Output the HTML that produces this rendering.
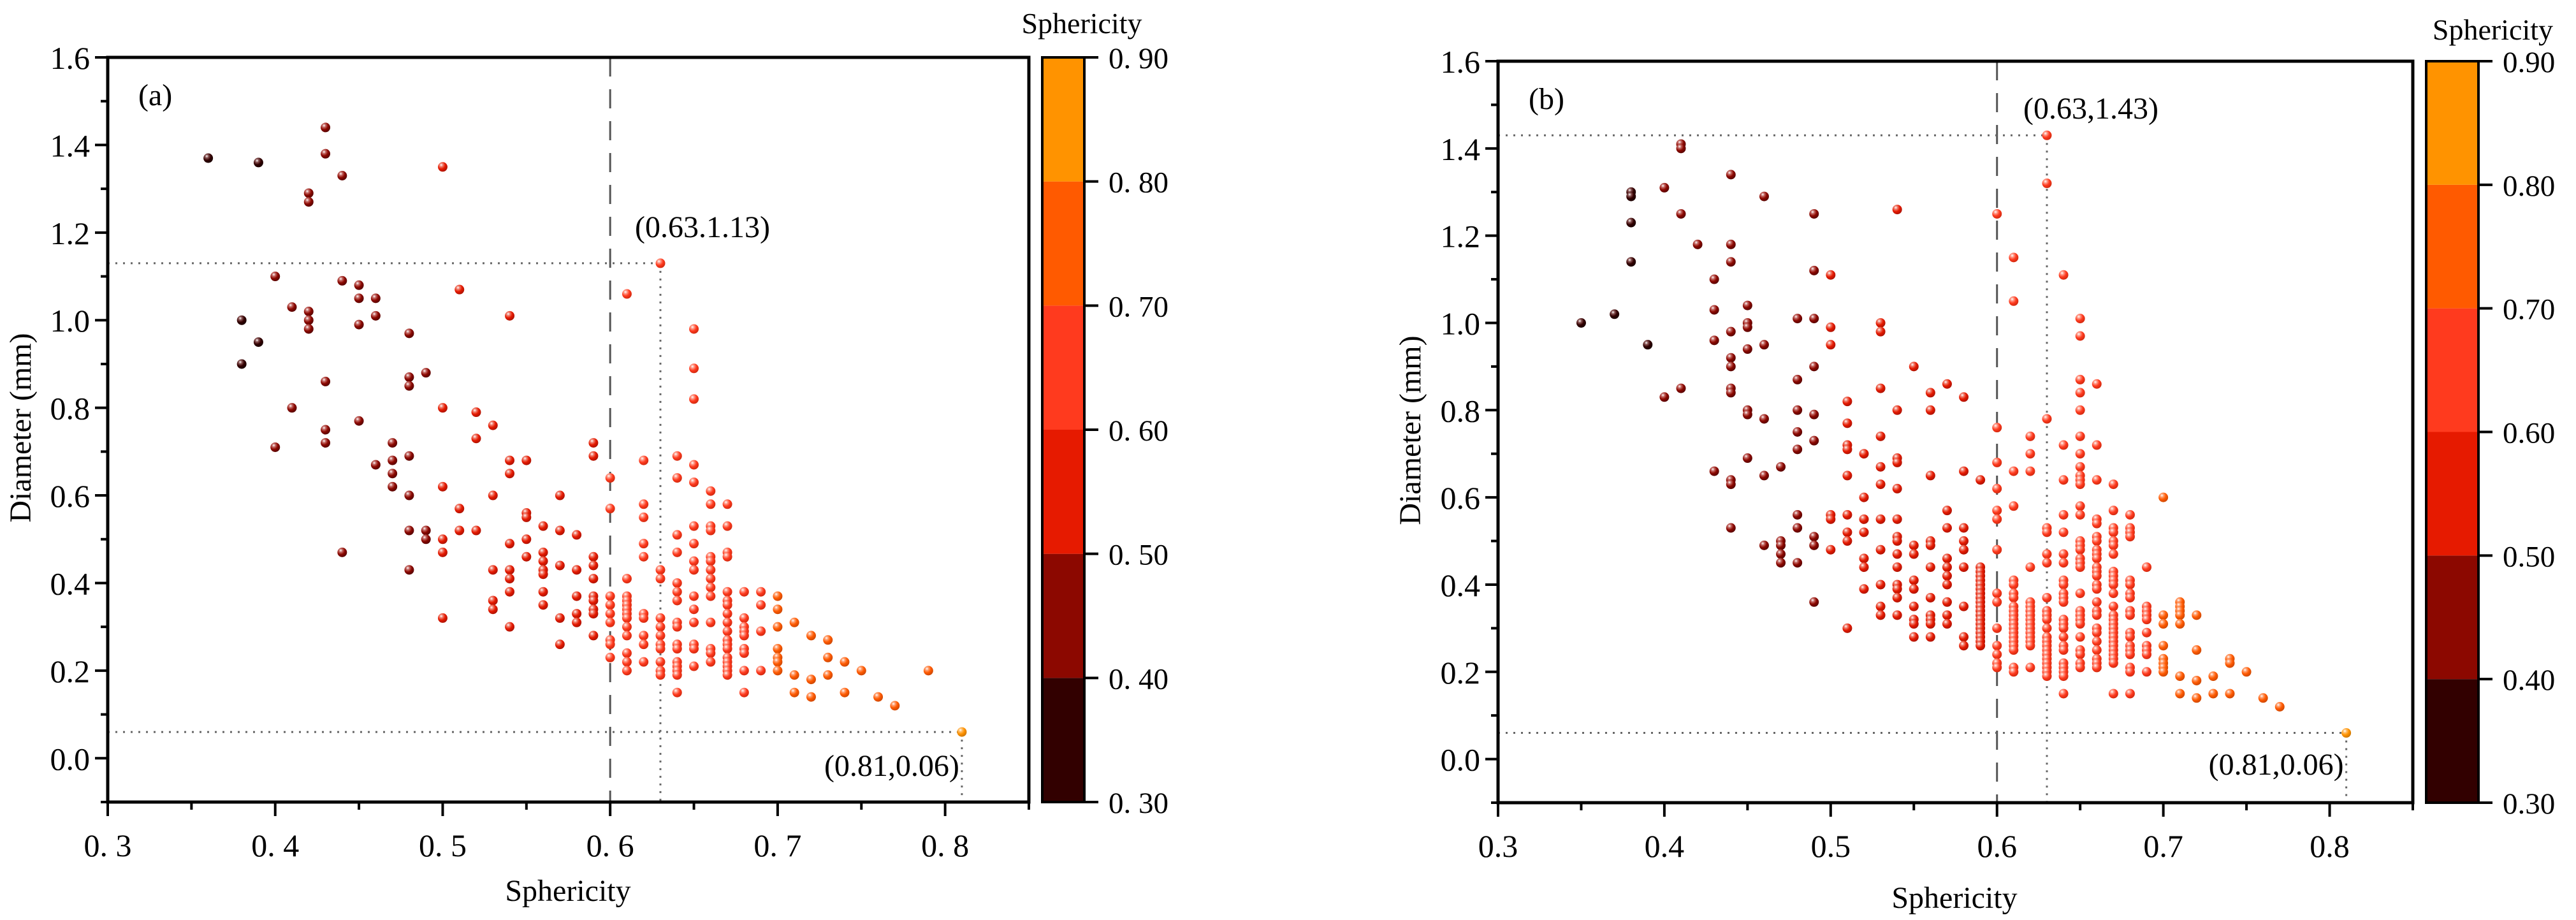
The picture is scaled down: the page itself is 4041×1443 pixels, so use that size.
<!DOCTYPE html>
<html><head><meta charset="utf-8"><style>
html,body{margin:0;padding:0;background:#fff}
svg{display:block}
svg text{font-family:"Liberation Serif","DejaVu Serif","Times New Roman",serif;fill:#000}
</style></head><body>
<svg id="chart" width="4041" height="1443" viewBox="0 0 4041 1443" xmlns="http://www.w3.org/2000/svg" font-family="Liberation Serif, DejaVu Serif, serif">
<defs>
<radialGradient id="g0" cx="0.35" cy="0.3" r="0.7"><stop offset="0" stop-color="#ffffff"/><stop offset="0.25" stop-color="#8a5555"/><stop offset="0.6" stop-color="#320000"/><stop offset="1" stop-color="#1a0000"/></radialGradient>
<radialGradient id="g1" cx="0.35" cy="0.3" r="0.7"><stop offset="0" stop-color="#ffffff"/><stop offset="0.25" stop-color="#c46a66"/><stop offset="0.6" stop-color="#8c0800"/><stop offset="1" stop-color="#5a0400"/></radialGradient>
<radialGradient id="g2" cx="0.35" cy="0.3" r="0.7"><stop offset="0" stop-color="#ffffff"/><stop offset="0.25" stop-color="#f08070"/><stop offset="0.6" stop-color="#e61a00"/><stop offset="1" stop-color="#b01200"/></radialGradient>
<radialGradient id="g3" cx="0.35" cy="0.3" r="0.7"><stop offset="0" stop-color="#ffffff"/><stop offset="0.25" stop-color="#ff9a88"/><stop offset="0.6" stop-color="#ff3a1e"/><stop offset="1" stop-color="#d42a10"/></radialGradient>
<radialGradient id="g4" cx="0.35" cy="0.3" r="0.7"><stop offset="0" stop-color="#ffffff"/><stop offset="0.25" stop-color="#ffa070"/><stop offset="0.6" stop-color="#ff5a00"/><stop offset="1" stop-color="#d04800"/></radialGradient>
<radialGradient id="g5" cx="0.35" cy="0.3" r="0.7"><stop offset="0" stop-color="#ffffff"/><stop offset="0.25" stop-color="#ffc070"/><stop offset="0.6" stop-color="#ff9300"/><stop offset="1" stop-color="#d07800"/></radialGradient>
</defs>
</svg>
<script>
// ---------- data: panel (a) ----------
const aSphericity = [0.36,0.38,0.39,0.40,0.41,0.42,0.43,0.44,0.45,0.46,0.47,0.48,0.49,0.50,0.51,0.52,0.53,0.54,0.55,0.56,0.57,0.58,0.59,0.60,0.61,0.62,0.63,0.64,0.65,0.66,0.67,0.68,0.69,0.70,0.71,0.72,0.73,0.74,0.75,0.76,0.77,0.79,0.81];
const aDiameter = [
[1.37],[1.00,0.90],[1.36,0.95],[1.10,0.71],[1.03,0.80],[1.29,1.27,1.02,1.00,0.98],[1.44,1.38,0.86,0.75,0.72],[1.33,1.09,0.47],[1.08,1.05,0.99,0.77],[1.05,1.01,0.67],[0.72,0.68,0.65,0.62],[0.97,0.87,0.85,0.69,0.60,0.52,0.43],[0.88,0.52,0.50],[1.35,0.80,0.62,0.50,0.47,0.32],[1.07,0.57,0.52],[0.79,0.73,0.52],[0.76,0.60,0.43,0.36,0.34],[1.01,0.68,0.65,0.49,0.43,0.41,0.38,0.30],[0.68,0.56,0.55,0.50,0.46],[0.53,0.47,0.45,0.43,0.42,0.38,0.35],[0.60,0.52,0.44,0.32,0.26],[0.51,0.43,0.37,0.33,0.31],[0.72,0.69,0.46,0.44,0.41,0.37,0.36,0.34,0.33,0.28],[0.64,0.57,0.37,0.35,0.33,0.31,0.27,0.26,0.23],[1.06,0.41,0.37,0.36,0.35,0.34,0.33,0.32,0.30,0.28,0.24,0.22,0.20],[0.68,0.58,0.55,0.49,0.46,0.33,0.32,0.28,0.26,0.22],[1.13,0.43,0.41,0.32,0.30,0.28,0.26,0.25,0.22,0.20,0.19],[0.69,0.64,0.51,0.47,0.40,0.38,0.36,0.31,0.30,0.26,0.25,0.22,0.21,0.20,0.19,0.15],[0.98,0.89,0.82,0.67,0.63,0.53,0.49,0.45,0.43,0.37,0.34,0.31,0.26,0.25,0.21],[0.61,0.58,0.53,0.52,0.46,0.45,0.43,0.41,0.39,0.37,0.31,0.25,0.24,0.22],[0.58,0.53,0.47,0.46,0.38,0.36,0.35,0.33,0.31,0.29,0.27,0.26,0.25,0.23,0.22,0.21,0.20,0.19],[0.38,0.32,0.30,0.29,0.28,0.25,0.24,0.20,0.15],[0.38,0.35,0.29,0.20],[0.37,0.34,0.30,0.25,0.23,0.22,0.20],[0.31,0.19,0.15],[0.28,0.18,0.14],[0.27,0.23,0.19],[0.22,0.15],[0.20],[0.14],[0.12],[0.20],[0.06]];
// ---------- data: panel (b) ----------
const bSphericity = [0.35,0.37,0.38,0.39,0.40,0.41,0.42,0.43,0.44,0.45,0.46,0.47,0.48,0.49,0.50,0.51,0.52,0.53,0.54,0.55,0.56,0.57,0.58,0.59,0.60,0.61,0.62,0.63,0.64,0.65,0.66,0.67,0.68,0.69,0.70,0.71,0.72,0.73,0.74,0.75,0.76,0.77,0.81];
const bDiameter = [
[1.00],[1.02],[1.30,1.29,1.23,1.14],[0.95],[1.31,0.83],[1.41,1.40,1.25,0.85],[1.18],[1.10,1.03,0.96,0.66],[1.34,1.18,1.14,0.98,0.92,0.90,0.85,0.84,0.64,0.63,0.53],[1.04,1.00,0.99,0.94,0.80,0.79,0.69],[1.29,0.95,0.78,0.65,0.49],[0.67,0.50,0.49,0.47,0.45],[1.01,0.87,0.80,0.75,0.71,0.56,0.53,0.45],[1.25,1.12,1.01,0.90,0.79,0.73,0.51,0.49,0.36],[1.11,0.99,0.95,0.56,0.55,0.48],[0.82,0.77,0.72,0.71,0.65,0.56,0.52,0.50,0.30],[0.70,0.60,0.55,0.52,0.46,0.44,0.39],[1.00,0.98,0.85,0.74,0.67,0.63,0.55,0.48,0.40,0.35,0.33],[1.26,0.80,0.69,0.68,0.62,0.55,0.51,0.50,0.47,0.44,0.40,0.39,0.37,0.33],[0.90,0.49,0.47,0.41,0.39,0.35,0.32,0.31,0.28],[0.84,0.80,0.65,0.50,0.49,0.44,0.37,0.33,0.32,0.31,0.28],[0.86,0.57,0.53,0.46,0.44,0.42,0.40,0.36,0.33,0.31],[0.83,0.66,0.53,0.50,0.48,0.44,0.35,0.28,0.26],[0.64,0.44,0.43,0.42,0.41,0.40,0.39,0.38,0.37,0.36,0.35,0.34,0.33,0.32,0.31,0.30,0.29,0.28,0.27,0.26],[1.25,0.76,0.68,0.62,0.57,0.55,0.48,0.38,0.36,0.30,0.26,0.24,0.22,0.21],[1.15,1.05,0.66,0.58,0.41,0.40,0.38,0.37,0.35,0.34,0.33,0.32,0.31,0.30,0.29,0.28,0.27,0.26,0.25,0.21,0.20],[0.74,0.70,0.66,0.44,0.36,0.35,0.34,0.33,0.32,0.31,0.30,0.29,0.28,0.27,0.26,0.21],[1.43,1.32,0.78,0.53,0.52,0.47,0.45,0.37,0.34,0.33,0.32,0.30,0.28,0.27,0.26,0.25,0.24,0.23,0.22,0.21,0.20,0.19],[1.11,0.72,0.64,0.56,0.52,0.47,0.45,0.41,0.40,0.38,0.37,0.36,0.32,0.31,0.30,0.28,0.26,0.25,0.22,0.21,0.20,0.19,0.15],[1.01,0.97,0.87,0.84,0.80,0.74,0.70,0.67,0.65,0.64,0.63,0.58,0.56,0.50,0.49,0.48,0.46,0.45,0.44,0.38,0.34,0.33,0.32,0.31,0.28,0.25,0.24,0.22,0.21],[0.86,0.72,0.64,0.55,0.54,0.51,0.50,0.48,0.47,0.46,0.44,0.43,0.42,0.40,0.39,0.36,0.34,0.33,0.30,0.29,0.27,0.25,0.23,0.22,0.21],[0.63,0.57,0.53,0.52,0.50,0.49,0.47,0.43,0.42,0.41,0.40,0.38,0.35,0.33,0.32,0.31,0.30,0.29,0.28,0.27,0.26,0.25,0.24,0.23,0.22,0.15],[0.56,0.53,0.52,0.51,0.41,0.40,0.38,0.37,0.34,0.33,0.29,0.28,0.26,0.25,0.24,0.21,0.20,0.15],[0.44,0.35,0.34,0.33,0.32,0.29,0.26,0.25,0.24,0.20],[0.60,0.33,0.31,0.26,0.23,0.22,0.21,0.20],[0.36,0.35,0.34,0.33,0.31,0.19,0.15],[0.33,0.25,0.18,0.14],[0.19,0.15],[0.23,0.22,0.15],[0.20],[0.14],[0.12],[0.06]];
// tick labels
const aXTickLabels = ["0. 3","0. 4","0. 5","0. 6","0. 7","0. 8"];
const bXTickLabels = ["0.3","0.4","0.5","0.6","0.7","0.8"];
const xTickValues = [0.3,0.4,0.5,0.6,0.7,0.8];
const yTickValues = [0.0,0.2,0.4,0.6,0.8,1.0,1.2,1.4,1.6];
const yTickLabels = ["0.0","0.2","0.4","0.6","0.8","1.0","1.2","1.4","1.6"];
const cbarValues = [0.3,0.4,0.5,0.6,0.7,0.8,0.9];
const aCbarLabels = ["0. 30","0. 40","0. 50","0. 60","0. 70","0. 80","0. 90"];
const bCbarLabels = ["0.30","0.40","0.50","0.60","0.70","0.80","0.90"];
const binColors = ["#320000","#8c0800","#e61a00","#ff3a1e","#ff5a00","#ff9300"];
const aRefPoint = [0.63,1.13]; const aMinPoint = [0.81,0.06];
const bRefPoint = [0.63,1.43]; const bMinPoint = [0.81,0.06];
const threshold = 0.6;

const svg = document.getElementById('chart');
const NS = 'http://www.w3.org/2000/svg';
const FONT = '"Liberation Serif", "DejaVu Serif", "Times New Roman", serif';
function mk(tag, attrs, parent){const e=document.createElementNS(NS,tag);for(const k in attrs)e.setAttribute(k,attrs[k]);if(tag==='text'){e.setAttribute('font-family','Liberation Serif, DejaVu Serif, serif');e.style.fontFamily=FONT;}(parent||svg).appendChild(e);return e;}

function panel(cfg, sph, dia, xLabels, cLabels, ref, minp, tag){
  const g = mk('g',{});
  
  
  const X = v => cfg.L + (v-0.3)/(0.85-0.3)*(cfg.R-cfg.L);
  const Y = v => cfg.B - (v+0.1)/(1.7)*(cfg.B-cfg.T);
  let l = mk('line',{x1:X(threshold),x2:X(threshold),y1:cfg.T,y2:cfg.B,stroke:'#555','stroke-width':3,'stroke-dasharray':'30 20'},g);
  
  
  const dots = {stroke:'#666','stroke-width':3,'stroke-dasharray':'3 9'};
  [[cfg.L,X(ref[0]),Y(ref[1]),Y(ref[1])],[X(ref[0]),X(ref[0]),Y(ref[1]),cfg.B],[cfg.L,X(minp[0]),Y(minp[1]),Y(minp[1])],[X(minp[0]),X(minp[0]),Y(minp[1]),cfg.B]].forEach(c=>{
    const d = mk('line',Object.assign({x1:c[0],x2:c[1],y1:c[2],y2:c[3]},dots),g);
    
    
  });
  sph.forEach((x,i)=>{
    dia[i].forEach(y=>{
      const bin = Math.max(0,Math.min(5,Math.floor((x-0.3)*10+1e-6)));
      const c = mk('circle',{cx:X(x),cy:Y(y),r:7.5,fill:'url(#g'+bin+')'},g);
      
      
    });
  });
  const f = mk('rect',{x:cfg.L,y:cfg.T,width:cfg.R-cfg.L,height:cfg.B-cfg.T,fill:'none',stroke:'#000','stroke-width':5},g);
  
  
  for(let k=0;k<=11;k++){
    const v = 0.3+k*0.05; const x=X(v); const major = k%2===0;
    mk('line',{x1:x,x2:x,y1:cfg.B,y2:cfg.B+(major?22:12),stroke:'#000','stroke-width':4},g);
  }
  xTickValues.forEach((v,i)=>{
    const t = mk('text',{x:X(v),y:cfg.B+85,'font-size':50,'text-anchor':'middle'},g);
    t.textContent = xLabels[i];
    
    
  });
  for(let k=-1;k<=16;k++){
    const v=k*0.1; const y=Y(v); const major = (k%2===0);
    mk('line',{x1:cfg.L,x2:cfg.L-(major?20:11),y1:y,y2:y,stroke:'#000','stroke-width':4},g);
  }
  yTickValues.forEach((v,i)=>{
    const t = mk('text',{x:cfg.L-28,y:Y(v)+18,'font-size':50,'text-anchor':'end'},g);
    t.textContent = yTickLabels[i];
    
    
  });
  let t = mk('text',{x:cfg.xtX,y:cfg.xtY,'font-size':48,'text-anchor':'middle'},g);
  t.textContent='Sphericity';
  
  
  t = mk('text',{x:0,y:0,'font-size':48,'text-anchor':'middle',transform:'translate('+cfg.ytX+','+cfg.ytY+') rotate(-90)'},g);
  t.textContent='Diameter (mm)';
  
  
  t = mk('text',{x:cfg.L+48,y:cfg.T+75,'font-size':48},g);
  t.textContent='('+tag+')';
  
  
  t = mk('text',{x:cfg.refLX,y:cfg.refLY,'font-size':48},g);
  t.textContent = cfg.refText;
  
  
  t = mk('text',{x:X(minp[0])-4,y:cfg.minLY,'font-size':48,'text-anchor':'end'},g);
  t.textContent = '('+minp[0].toFixed(2)+','+minp[1].toFixed(2)+')';
  
  
  const CY = v => cfg.B - (v-0.3)/0.6*(cfg.B-cfg.T);
  for(let k=0;k<6;k++){
    const r = mk('rect',{x:cfg.cL,y:CY(cbarValues[k+1]),width:cfg.cW,height:CY(cbarValues[k])-CY(cbarValues[k+1]),fill:binColors[k]},g);
    
    
  }
  mk('rect',{x:cfg.cL,y:cfg.T,width:cfg.cW,height:cfg.B-cfg.T,fill:'none',stroke:'#000','stroke-width':4},g);
  cbarValues.forEach((v,i)=>{
    mk('line',{x1:cfg.cL+cfg.cW,x2:cfg.cL+cfg.cW+22,y1:CY(v),y2:CY(v),stroke:'#000','stroke-width':4},g);
    const tl = mk('text',{x:cfg.cL+cfg.cW+38,y:CY(v)+17,'font-size':47},g);
    tl.textContent = cLabels[i];
    
    
  });
  t = mk('text',{x:cfg.ctX,y:cfg.ctY,'font-size':46,'text-anchor':cfg.ctA},g);
  t.textContent='Sphericity';
  
  
}

panel({L:169,R:1614,T:90,B:1258,xtX:891,xtY:1413,ytX:48,ytY:671,refLX:996,refLY:372,refText:'(0.63.1.13)',minLY:1217,cL:1635,cW:66,ctX:1697,ctY:52,ctA:'middle'},
  aSphericity,aDiameter,aXTickLabels,aCbarLabels,aRefPoint,aMinPoint,'a');
panel({L:2350,R:3785,T:96,B:1259,xtX:3066,xtY:1424,ytX:2228,ytY:675,refLX:3174,refLY:186,refText:'(0.63,1.43)',minLY:1215,cL:3806,cW:82,ctX:4005,ctY:62,ctA:'end'},
  bSphericity,bDiameter,bXTickLabels,bCbarLabels,bRefPoint,bMinPoint,'b');
</script>
</body></html>
